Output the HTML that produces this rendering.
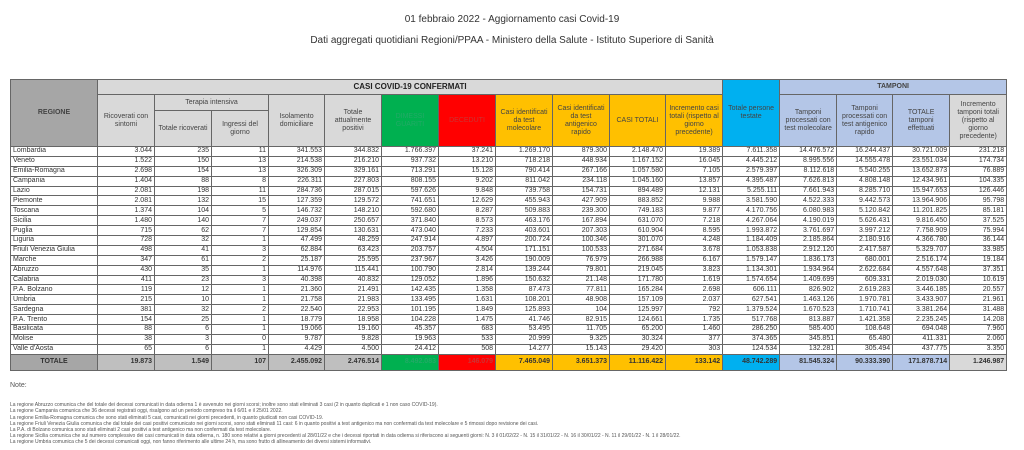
<!DOCTYPE html>
<html><head><meta charset="utf-8"><style>
body{margin:0;width:1024px;height:450px;background:#fff;font-family:"Liberation Sans",sans-serif;position:relative;overflow:hidden;color:#333}
.t{position:absolute;left:0;width:1024px;text-align:center;font-size:10px;color:#333}
table{position:absolute;left:10px;top:79px;width:996px;border-collapse:collapse;table-layout:fixed;font-size:7px}
td{border:1px solid #666;padding:0 2px;text-align:right;white-space:nowrap;overflow:hidden;height:8.9px;line-height:8px}
td:first-child{text-align:left}
thead td{text-align:center!important;white-space:normal;background:#d9d9d9;line-height:8px;color:#444}
.rg{background:#a6a6a6!important;font-weight:bold}
.gr{background:#00b050!important;color:#2a6}
.rd{background:#f00!important;color:#c33}
.or{background:#ffc000!important}
.bl{background:#00b0f0!important}
.tp{background:#b4c6e7!important}
.gy{background:#d9d9d9!important}
tr.tot td{height:15px;font-weight:bold;background:#bfbfbf}
.notes{position:absolute;left:10px;top:383px;font-size:5px;line-height:6.2px;color:#555}
</style></head><body>
<div class="t" style="top:14px">01 febbraio 2022 - Aggiornamento casi Covid-19</div>
<div class="t" style="top:35px">Dati aggregati quotidiani Regioni/PPAA - Ministero della Salute - Istituto Superiore di Sanità</div>
<table>
<colgroup><col style="width:87px"><col style="width:57px"><col style="width:57px"><col style="width:57px"><col style="width:56px"><col style="width:57px"><col style="width:57px"><col style="width:57px"><col style="width:57px"><col style="width:57px"><col style="width:56px"><col style="width:57px"><col style="width:57px"><col style="width:57px"><col style="width:56px"><col style="width:57px"><col style="width:57px"></colgroup>
<thead>
<tr style="height:15px"><td rowspan="3" class="rg">REGIONE</td><td colspan="11" style="font-weight:bold;font-size:8px;color:#222">CASI COVID-19 CONFERMATI</td><td rowspan="3" class="bl">Totale persone testate</td><td colspan="4" class="tp" style="font-weight:bold">TAMPONI</td></tr>
<tr style="height:16px"><td rowspan="2">Ricoverati con sintomi</td><td colspan="2">Terapia intensiva</td><td rowspan="2">Isolamento domiciliare</td><td rowspan="2">Totale attualmente positivi</td><td rowspan="2" class="gr">DIMESSI GUARITI</td><td rowspan="2" class="rd">DECEDUTI</td><td rowspan="2" class="or">Casi identificati da test molecolare</td><td rowspan="2" class="or">Casi identificati da test antigenico rapido</td><td rowspan="2" class="or">CASI TOTALI</td><td rowspan="2" class="or">Incremento casi totali (rispetto al giorno precedente)</td><td rowspan="2" class="tp">Tamponi processati con test molecolare</td><td rowspan="2" class="tp">Tamponi processati con test antigenico rapido</td><td rowspan="2" class="tp">TOTALE tamponi effettuati</td><td rowspan="2" class="gy">Incremento tamponi totali (rispetto al giorno precedente)</td></tr>
<tr style="height:36px"><td>Totale ricoverati</td><td>Ingressi del giorno</td></tr>
</thead>
<tbody>
<tr><td>Lombardia</td><td>3.044</td><td>235</td><td>11</td><td>341.553</td><td>344.832</td><td>1.766.397</td><td>37.241</td><td>1.269.170</td><td>879.300</td><td>2.148.470</td><td>19.389</td><td>7.611.358</td><td>14.476.572</td><td>16.244.437</td><td>30.721.009</td><td>231.218</td></tr>
<tr><td>Veneto</td><td>1.522</td><td>150</td><td>13</td><td>214.538</td><td>216.210</td><td>937.732</td><td>13.210</td><td>718.218</td><td>448.934</td><td>1.167.152</td><td>16.045</td><td>4.445.212</td><td>8.995.556</td><td>14.555.478</td><td>23.551.034</td><td>174.734</td></tr>
<tr><td>Emilia-Romagna</td><td>2.698</td><td>154</td><td>13</td><td>326.309</td><td>329.161</td><td>713.291</td><td>15.128</td><td>790.414</td><td>267.166</td><td>1.057.580</td><td>7.105</td><td>2.579.397</td><td>8.112.618</td><td>5.540.255</td><td>13.652.873</td><td>76.889</td></tr>
<tr><td>Campania</td><td>1.404</td><td>88</td><td>8</td><td>226.311</td><td>227.803</td><td>808.155</td><td>9.202</td><td>811.042</td><td>234.118</td><td>1.045.160</td><td>13.857</td><td>4.395.487</td><td>7.626.813</td><td>4.808.148</td><td>12.434.961</td><td>104.335</td></tr>
<tr><td>Lazio</td><td>2.081</td><td>198</td><td>11</td><td>284.736</td><td>287.015</td><td>597.626</td><td>9.848</td><td>739.758</td><td>154.731</td><td>894.489</td><td>12.131</td><td>5.255.111</td><td>7.661.943</td><td>8.285.710</td><td>15.947.653</td><td>126.446</td></tr>
<tr><td>Piemonte</td><td>2.081</td><td>132</td><td>15</td><td>127.359</td><td>129.572</td><td>741.651</td><td>12.629</td><td>455.943</td><td>427.909</td><td>883.852</td><td>9.988</td><td>3.581.590</td><td>4.522.333</td><td>9.442.573</td><td>13.964.906</td><td>95.798</td></tr>
<tr><td>Toscana</td><td>1.374</td><td>104</td><td>5</td><td>146.732</td><td>148.210</td><td>592.680</td><td>8.287</td><td>509.883</td><td>239.300</td><td>749.183</td><td>9.877</td><td>4.170.756</td><td>6.080.983</td><td>5.120.842</td><td>11.201.825</td><td>85.181</td></tr>
<tr><td>Sicilia</td><td>1.480</td><td>140</td><td>7</td><td>249.037</td><td>250.657</td><td>371.840</td><td>8.573</td><td>463.176</td><td>167.894</td><td>631.070</td><td>7.218</td><td>4.267.064</td><td>4.190.019</td><td>5.626.431</td><td>9.816.450</td><td>37.525</td></tr>
<tr><td>Puglia</td><td>715</td><td>62</td><td>7</td><td>129.854</td><td>130.631</td><td>473.040</td><td>7.233</td><td>403.601</td><td>207.303</td><td>610.904</td><td>8.595</td><td>1.993.872</td><td>3.761.697</td><td>3.997.212</td><td>7.758.909</td><td>75.994</td></tr>
<tr><td>Liguria</td><td>728</td><td>32</td><td>1</td><td>47.499</td><td>48.259</td><td>247.914</td><td>4.897</td><td>200.724</td><td>100.346</td><td>301.070</td><td>4.248</td><td>1.184.409</td><td>2.185.864</td><td>2.180.916</td><td>4.366.780</td><td>36.144</td></tr>
<tr><td>Friuli Venezia Giulia</td><td>498</td><td>41</td><td>3</td><td>62.884</td><td>63.423</td><td>203.757</td><td>4.504</td><td>171.151</td><td>100.533</td><td>271.684</td><td>3.678</td><td>1.053.838</td><td>2.912.120</td><td>2.417.587</td><td>5.329.707</td><td>33.985</td></tr>
<tr><td>Marche</td><td>347</td><td>61</td><td>2</td><td>25.187</td><td>25.595</td><td>237.967</td><td>3.426</td><td>190.009</td><td>76.979</td><td>266.988</td><td>6.167</td><td>1.579.147</td><td>1.836.173</td><td>680.001</td><td>2.516.174</td><td>19.184</td></tr>
<tr><td>Abruzzo</td><td>430</td><td>35</td><td>1</td><td>114.976</td><td>115.441</td><td>100.790</td><td>2.814</td><td>139.244</td><td>79.801</td><td>219.045</td><td>3.823</td><td>1.134.301</td><td>1.934.964</td><td>2.622.684</td><td>4.557.648</td><td>37.351</td></tr>
<tr><td>Calabria</td><td>411</td><td>23</td><td>3</td><td>40.398</td><td>40.832</td><td>129.052</td><td>1.896</td><td>150.632</td><td>21.148</td><td>171.780</td><td>1.619</td><td>1.574.654</td><td>1.409.699</td><td>609.331</td><td>2.019.030</td><td>10.619</td></tr>
<tr><td>P.A. Bolzano</td><td>119</td><td>12</td><td>1</td><td>21.360</td><td>21.491</td><td>142.435</td><td>1.358</td><td>87.473</td><td>77.811</td><td>165.284</td><td>2.698</td><td>606.111</td><td>826.902</td><td>2.619.283</td><td>3.446.185</td><td>20.557</td></tr>
<tr><td>Umbria</td><td>215</td><td>10</td><td>1</td><td>21.758</td><td>21.983</td><td>133.495</td><td>1.631</td><td>108.201</td><td>48.908</td><td>157.109</td><td>2.037</td><td>627.541</td><td>1.463.126</td><td>1.970.781</td><td>3.433.907</td><td>21.961</td></tr>
<tr><td>Sardegna</td><td>381</td><td>32</td><td>2</td><td>22.540</td><td>22.953</td><td>101.195</td><td>1.849</td><td>125.893</td><td>104</td><td>125.997</td><td>792</td><td>1.379.524</td><td>1.670.523</td><td>1.710.741</td><td>3.381.264</td><td>31.488</td></tr>
<tr><td>P.A. Trento</td><td>154</td><td>25</td><td>1</td><td>18.779</td><td>18.958</td><td>104.228</td><td>1.475</td><td>41.746</td><td>82.915</td><td>124.661</td><td>1.735</td><td>517.768</td><td>813.887</td><td>1.421.358</td><td>2.235.245</td><td>14.208</td></tr>
<tr><td>Basilicata</td><td>88</td><td>6</td><td>1</td><td>19.066</td><td>19.160</td><td>45.357</td><td>683</td><td>53.495</td><td>11.705</td><td>65.200</td><td>1.460</td><td>286.250</td><td>585.400</td><td>108.648</td><td>694.048</td><td>7.960</td></tr>
<tr><td>Molise</td><td>38</td><td>3</td><td>0</td><td>9.787</td><td>9.828</td><td>19.963</td><td>533</td><td>20.999</td><td>9.325</td><td>30.324</td><td>377</td><td>374.365</td><td>345.851</td><td>65.480</td><td>411.331</td><td>2.060</td></tr>
<tr><td>Valle d'Aosta</td><td>65</td><td>6</td><td>1</td><td>4.429</td><td>4.500</td><td>24.412</td><td>508</td><td>14.277</td><td>15.143</td><td>29.420</td><td>303</td><td>124.534</td><td>132.281</td><td>305.494</td><td>437.775</td><td>3.350</td></tr>
<tr class="tot"><td class="rg" style="text-align:center">TOTALE</td><td>19.873</td><td>1.549</td><td>107</td><td>2.455.092</td><td>2.476.514</td><td class="gr">8.492.083</td><td class="rd">146.079</td><td class="or">7.465.049</td><td class="or">3.651.373</td><td class="or">11.116.422</td><td class="or">133.142</td><td class="bl">48.742.289</td><td class="tp">81.545.324</td><td class="tp">90.333.390</td><td class="tp">171.878.714</td><td class="gy">1.246.987</td></tr>
</tbody></table>
<div class="notes"><div style="font-size:7px;margin-bottom:13px">Note:</div>
La regione Abruzzo comunica che del totale dei decessi comunicati in data odierna 1 è avvenuto nei giorni scorsi; inoltre sono stati eliminati 3 casi (2 in quanto duplicati e 1 non caso COVID-19).<br>
La regione Campania comunica che 36 decessi registrati oggi, risalgono ad un periodo compreso tra il 6/01 e il 25/01 2022.<br>
La regione Emilia-Romagna comunica che sono stati eliminati 5 casi, comunicati nei giorni precedenti, in quanto giudicati non casi COVID-19.<br>
La regione Friuli Venezia Giulia comunica che dal totale dei casi positivi comunicato nei giorni scorsi, sono stati eliminati 11 casi: 6 in quanto positivi a test antigenico ma non confermati da test molecolare e 5 rimossi dopo revisione dei casi.<br>
La P.A. di Bolzano comunica sono stati eliminati 2 casi positivi a test antigenico ma non confermati da test molecolare.<br>
La regione Sicilia comunica che sul numero complessivo dei casi comunicati in data odierna, n. 180 sono relativi a giorni precedenti al 28/01/22 e che i decessi riportati in data odierna si riferiscono ai seguenti giorni: N. 3 il 01/02/22 - N. 15 il 31/01/22 - N. 16 il 30/01/22 - N. 11 il 29/01/22 - N. 1 il 28/01/22.<br>
La regione Umbria comunica che 5 dei decessi comunicati oggi, non fanno riferimento alle ultime 24 h, ma sono frutto di allineamento dei diversi sistemi informativi.
</div>
</body></html>
